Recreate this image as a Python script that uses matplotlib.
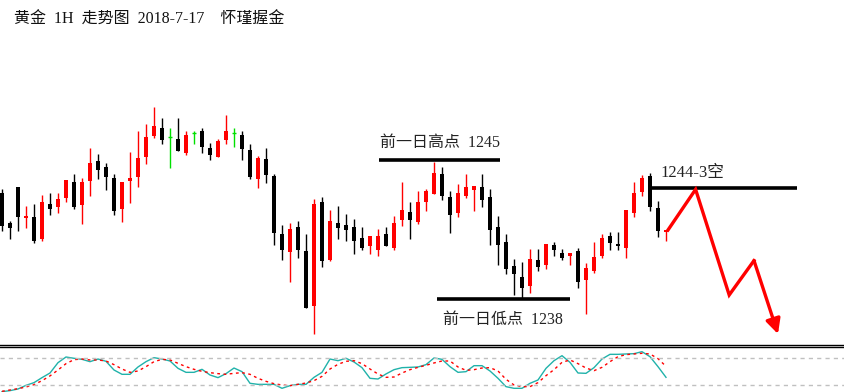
import matplotlib

matplotlib.use("Agg")
import matplotlib.pyplot as plt
import numpy as np

plt.rcParams["font.family"] = ["Liberation Serif", "Noto Sans CJK SC"]

# hourly gold candles (price)
opens = [1243.35, 1241.85, 1243.65, 1242.10, 1242.15, 1241.07, 1242.80, 1242.67, 1243.12, 1243.90,
         1242.77, 1243.97, 1244.95, 1244.65, 1244.10, 1242.57, 1243.97, 1244.17, 1245.17, 1246.22,
         1246.60, 1246.14, 1246.05, 1245.37, 1246.35, 1246.45, 1245.60, 1245.17, 1246.02, 1246.35,
         1246.25, 1245.50, 1244.07, 1245.05, 1244.20, 1241.30, 1240.42, 1241.65, 1240.45, 1237.72,
         1242.90, 1240.02, 1241.85, 1241.75, 1241.65, 1241.10, 1240.72, 1240.52, 1241.30, 1240.62,
         1242.02, 1242.40, 1241.92, 1242.92, 1243.32, 1244.30, 1243.15, 1242.37, 1243.22, 1243.52,
         1243.65, 1243.15, 1241.65, 1240.90, 1239.70, 1239.15, 1238.72, 1240.00, 1239.77, 1240.75,
         1240.35, 1240.22, 1240.45, 1239.02, 1239.47, 1240.22, 1241.20, 1240.80, 1240.62, 1242.37,
         1243.40, 1244.20, 1242.60, 1241.40]
closes = [1241.72, 1241.62, 1242.17, 1242.20, 1240.97, 1242.90, 1242.57, 1243.05, 1244.00, 1242.67,
          1243.90, 1244.85, 1244.52, 1244.17, 1242.47, 1243.90, 1244.10, 1245.10, 1246.15, 1246.70,
          1246.02, 1246.14, 1245.47, 1246.25, 1246.35, 1245.67, 1245.27, 1245.95, 1246.45, 1246.35,
          1245.57, 1244.17, 1245.10, 1244.27, 1241.37, 1240.52, 1241.55, 1240.52, 1237.62, 1242.80,
          1239.97, 1241.95, 1241.60, 1241.50, 1240.97, 1240.62, 1241.20, 1241.20, 1240.72, 1241.85,
          1242.50, 1242.02, 1242.90, 1243.45, 1244.35, 1243.22, 1242.27, 1243.35, 1243.65, 1243.70,
          1243.02, 1241.52, 1240.77, 1239.57, 1239.32, 1238.62, 1240.05, 1239.67, 1240.80, 1240.52,
          1240.12, 1240.35, 1238.92, 1239.60, 1240.15, 1241.10, 1240.87, 1240.72, 1242.50, 1243.35,
          1244.10, 1242.67, 1241.47, 1241.50]
highs = [1243.55, 1241.95, 1243.65, 1242.70, 1242.80, 1243.25, 1243.35, 1243.35, 1244.00, 1244.30,
         1244.10, 1245.60, 1245.30, 1244.85, 1244.30, 1243.90, 1245.40, 1246.44, 1246.80, 1247.65,
         1247.10, 1246.60, 1247.10, 1246.45, 1246.45, 1246.60, 1245.85, 1246.05, 1247.25, 1246.60,
         1246.45, 1245.80, 1245.20, 1245.60, 1244.30, 1241.75, 1241.85, 1241.95, 1241.30, 1243.05,
         1243.15, 1242.50, 1242.70, 1242.30, 1242.05, 1241.65, 1241.20, 1241.55, 1241.65, 1242.20,
         1243.90, 1242.90, 1243.45, 1243.55, 1244.90, 1244.65, 1243.45, 1243.80, 1244.30, 1243.70,
         1244.30, 1243.55, 1242.20, 1241.30, 1240.07, 1239.90, 1240.55, 1240.55, 1240.80, 1240.90,
         1240.55, 1240.35, 1240.62, 1239.87, 1240.90, 1241.30, 1241.40, 1241.40, 1242.50, 1243.90,
         1244.25, 1244.35, 1242.95, 1241.50]
lows = [1241.47, 1241.07, 1241.47, 1241.62, 1240.87, 1240.97, 1242.27, 1242.37, 1242.92, 1242.57,
        1241.82, 1243.22, 1244.05, 1243.52, 1242.27, 1241.92, 1242.87, 1243.67, 1244.82, 1246.12,
        1245.82, 1244.62, 1245.47, 1245.27, 1245.82, 1245.37, 1245.02, 1245.17, 1245.82, 1245.67,
        1245.02, 1244.07, 1243.62, 1243.87, 1240.77, 1240.02, 1238.92, 1240.12, 1237.62, 1236.32,
        1239.67, 1239.97, 1241.07, 1240.97, 1240.32, 1240.52, 1240.32, 1240.22, 1240.72, 1240.52,
        1241.72, 1241.07, 1241.82, 1242.47, 1243.32, 1243.02, 1241.37, 1242.17, 1243.12, 1242.47,
        1242.67, 1240.77, 1239.77, 1239.32, 1238.27, 1238.07, 1238.37, 1239.47, 1239.57, 1240.22,
        1240.02, 1239.77, 1238.62, 1237.32, 1239.37, 1240.12, 1240.52, 1240.52, 1240.12, 1242.17,
        1243.22, 1242.47, 1241.17, 1240.97]

# oscillator panel (main line / signal line)
stoch_k = [5.9, 8.1, 11.8, 19.9, 25.9, 37.0, 47.3, 70.3, 82.9, 80.0,
           77.7, 72.5, 78.4, 73.3, 54.0, 44.4, 44.4, 60.7, 72.5, 81.4,
           78.4, 74.0, 57.7, 48.8, 48.8, 55.5, 42.9, 37.0, 45.9, 58.4,
           50.3, 24.4, 22.1, 22.1, 22.1, 13.3, 19.2, 22.1, 22.1, 37.7,
           48.8, 78.4, 74.7, 80.0, 71.8, 59.2, 35.5, 34.0, 45.2, 54.7,
           59.2, 59.9, 60.7, 65.9, 80.7, 77.7, 61.4, 48.8, 50.3, 63.6,
           63.6, 51.8, 35.5, 17.0, 13.3, 13.3, 24.4, 31.8, 57.7, 74.7,
           85.8, 71.0, 47.3, 46.6, 59.2, 78.4, 88.8, 88.8, 89.6, 90.3,
           94.7, 83.6, 61.4, 37.7]
stoch_d = [6.6, 9.6, 12.5, 16.2, 21.4, 30.3, 40.9, 54.0, 68.1, 77.0,
           78.4, 76.3, 76.3, 74.0, 65.9, 56.2, 48.8, 51.8, 61.4, 72.5,
           77.7, 76.3, 68.8, 61.4, 55.5, 51.0, 48.1, 45.9, 44.4, 46.6,
           48.1, 44.4, 35.5, 28.8, 23.6, 20.7, 19.2, 22.1, 25.1, 30.3,
           39.9, 56.2, 66.6, 73.3, 74.7, 68.1, 56.2, 45.1, 37.7, 38.4,
           47.3, 54.7, 59.9, 64.4, 69.6, 74.0, 74.0, 60.7, 53.3, 54.7,
           58.4, 59.2, 51.8, 33.3, 20.7, 17.0, 17.0, 25.9, 41.4, 54.7,
           71.0, 76.3, 68.1, 58.4, 52.5, 59.9, 72.5, 83.6, 88.1, 89.6,
           91.1, 89.6, 79.2, 62.1]
stoch_levels = [80, 20]

# annotations
prev_high = 1245.0
prev_high_span = (47.1, 62.25)
prev_low = 1238.05
prev_low_span = (54.4, 71.0)
short_level = 1243.6
short_span = (81.1, 99.4)
path_x = [83.25, 86.7, 90.9, 94.0, 97.0]
path_y = [1241.5, 1243.53, 1238.25, 1239.97, 1236.3]

W, H = 844, 392
fig = plt.figure(figsize=(W / 100, H / 100), dpi=100)
ax = fig.add_axes([0, (H - 345) / H, 1, 345 / H])
osc = fig.add_axes([0, 0, 1, (H - 347) / H])

o = np.array(opens)
c = np.array(closes)
x = np.arange(len(o))
cols = np.where(c > o, "#ff0000", np.where(c < o, "#000000", "#00e000"))

ax.vlines(x, lows, highs, colors=cols, lw=1.0)
ax.bar(x, np.abs(c - o), bottom=np.minimum(o, c), width=0.62, color=cols, lw=0)
doji = c == o
ax.hlines(c[doji], x[doji] - 0.31, x[doji] + 0.31, colors="#00e000", lw=1.0)

ax.set_xlim(-0.25, 105.25)
ax.set_ylim(1253 - 345 / 20, 1253)
for s in ("top", "left", "right"):
    ax.spines[s].set_visible(False)
ax.spines["bottom"].set_linewidth(1.0)
ax.set_xticks([])
ax.set_yticks([])

ax.hlines(prev_high, *prev_high_span, colors="black", lw=2.6)
ax.text(47.25, 1245.85, "前一日高点  1245", fontsize=11.5, color="#222222", va="center")
ax.hlines(prev_low, *prev_low_span, colors="black", lw=2.6)
ax.text(55.1, 1237.0, "前一日低点  1238", fontsize=11.5, color="#222222", va="center")
ax.hlines(short_level, *short_span, colors="black", lw=2.6)
ax.text(82.25, 1244.35, "1244-3空", fontsize=12, color="#222222", va="center")

ax.plot(path_x[:-1], path_y[:-1], color="#ff0000", lw=2.4, solid_joinstyle="miter")
ax.annotate("", xy=(path_x[-1], path_y[-1]), xytext=(path_x[-2], path_y[-2]),
            arrowprops=dict(arrowstyle="-|>", color="#ff0000", lw=2.4, mutation_scale=22,
                            shrinkA=0, shrinkB=0))

osc.plot(x, stoch_k, color="#20b2aa", lw=1.0)
osc.plot(x, stoch_d, color="#ff0000", lw=1.0, linestyle=(0, (2, 2.5)))
for lv in stoch_levels:
    osc.axhline(lv, color="#c0c0c0", lw=1.0, linestyle=(0, (3, 3)))
osc.set_xlim(-0.25, 105.25)
osc.set_ylim(5.1, 105.1)
for s in ("bottom", "left", "right"):
    osc.spines[s].set_visible(False)
osc.spines["top"].set_linewidth(1.0)
osc.set_xticks([])
osc.set_yticks([])

fig.text(14 / W, 1 - 20 / H, "黄金  1H  走势图  2018-7-17    怀瑾握金", fontsize=11.5,
         color="#111111", va="center")

fig.savefig("out.png", dpi=100)
